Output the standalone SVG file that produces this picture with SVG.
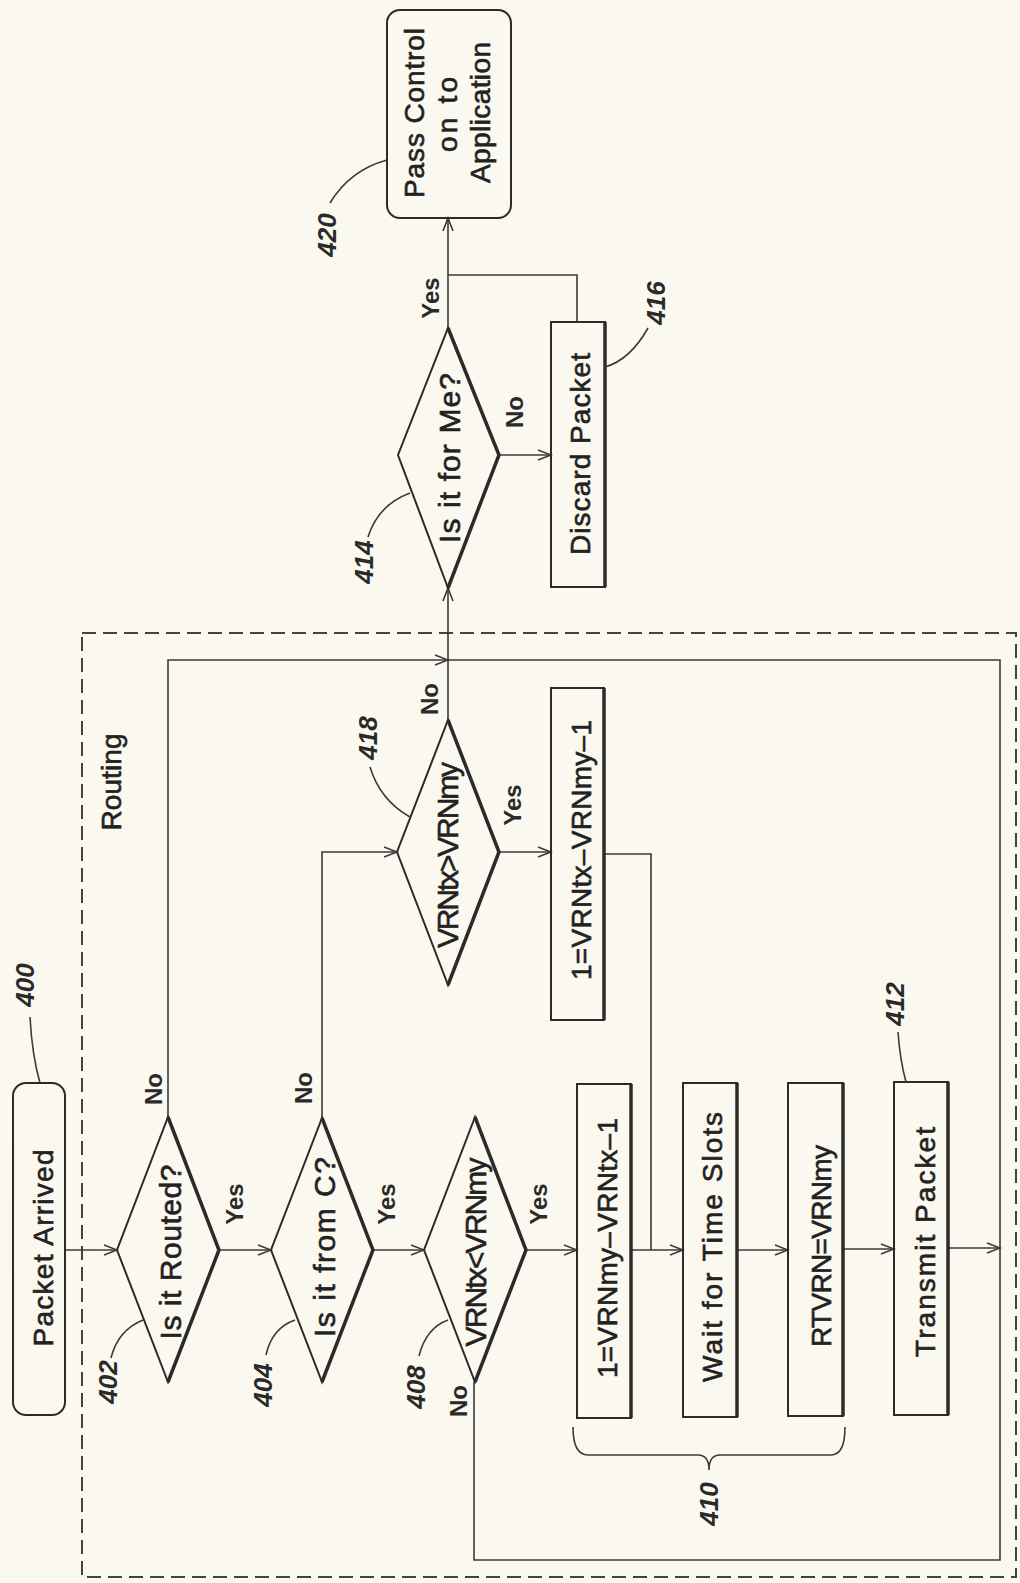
<svg xmlns="http://www.w3.org/2000/svg" width="1020" height="1583" viewBox="0 0 1020 1583">
<defs>
<marker id="arr" markerUnits="userSpaceOnUse" markerWidth="16" markerHeight="12" refX="14" refY="6" orient="auto">
<path d="M1,1 L14,6 L1,11" fill="none" stroke="#3a3a3a" stroke-width="1.6"/>
</marker>
<style>
.bg{fill:#fbf9ef}
.box{fill:none;stroke:#2b2b2b;stroke-width:2}
.shade{fill:none;stroke:#2b2b2b;stroke-width:3.5}
.ln{fill:none;stroke:#3a3a3a;stroke-width:1.6}
.dash{fill:none;stroke:#444;stroke-width:2;stroke-dasharray:14 7}
.t{font-family:"Liberation Sans",Arial,sans-serif;font-size:28px;fill:#222;stroke:#222;stroke-width:0.6;text-anchor:middle}
.d{font-family:"Liberation Sans",Arial,sans-serif;font-size:30px;fill:#222;stroke:#222;stroke-width:0.6;text-anchor:middle}
.yn{font-family:"Liberation Sans",Arial,sans-serif;font-size:24px;font-weight:bold;fill:#2a2a2a;text-anchor:middle}
.ref{font-family:"Liberation Sans",Arial,sans-serif;font-size:26px;font-weight:bold;font-style:italic;fill:#2a2a2a;text-anchor:middle}
</style>
</defs>
<rect class="bg" x="0" y="0" width="1020" height="1583"/>

<g id="routing">
<rect class="dash" x="82" y="633" width="934" height="944"/>
<text class="t" transform="translate(111,782) rotate(-90)" y="10" textLength="97">Routing</text>
</g>

<g id="connectors">
<path class="ln" d="M65,1250 L117,1250" marker-end="url(#arr)"/>
<path class="ln" d="M219,1250 L271,1250" marker-end="url(#arr)"/>
<path class="ln" d="M373,1250 L424,1250" marker-end="url(#arr)"/>
<path class="ln" d="M526,1250 L577,1250" marker-end="url(#arr)"/>
<path class="ln" d="M631,1250 L683,1250" marker-end="url(#arr)"/>
<path class="ln" d="M737,1250 L788,1250" marker-end="url(#arr)"/>
<path class="ln" d="M843,1249 L894,1249" marker-end="url(#arr)"/>
<path class="ln" d="M948,1248 L1000,1248" marker-end="url(#arr)"/>
<path class="ln" d="M168,1117 L168,660 L448,660" marker-end="url(#arr)"/>
<path class="ln" d="M322,1118 L322,852 L397,852" marker-end="url(#arr)"/>
<path class="ln" d="M499,852 L551,852" marker-end="url(#arr)"/>
<path class="ln" d="M604,854 L651,854 L651,1250"/>
<path class="ln" d="M448,720 L448,588" marker-end="url(#arr)"/>
<path class="ln" d="M474,1382 L474,1560 L1000,1560 L1000,660 L448,660"/>
<path class="ln" d="M448,328 L448,218" marker-end="url(#arr)"/>
<path class="ln" d="M499,455 L551,455" marker-end="url(#arr)"/>
<path class="ln" d="M577,322 L577,275 L448,275"/>
</g>

<g id="n400">
<rect class="box" x="13" y="1083" width="52" height="332" rx="13"/>
<text class="t" transform="translate(42.5,1248) rotate(-90)" y="10" textLength="197">Packet Arrived</text>
</g>

<g id="n402">
<polygon class="box" points="168,1117 219,1250 168,1382 117,1250"/>
<path class="shade" d="M168,1117 L219,1250 L168,1382"/>
<text class="d" transform="translate(170,1252) rotate(-90)" y="11" textLength="175">Is it Routed?</text>
<text class="yn" transform="translate(153,1089) rotate(-90)" y="8.5">No</text>
<text class="yn" transform="translate(234,1204) rotate(-90)" y="8.5">Yes</text>
</g>

<g id="n404">
<polygon class="box" points="322,1118 373,1250 322,1382 271,1250"/>
<path class="shade" d="M322,1118 L373,1250 L322,1382"/>
<text class="d" transform="translate(324,1247) rotate(-90)" y="11" textLength="180">Is it from C?</text>
<text class="yn" transform="translate(303,1088) rotate(-90)" y="8.5">No</text>
<text class="yn" transform="translate(386,1204) rotate(-90)" y="8.5">Yes</text>
</g>

<g id="n408">
<polygon class="box" points="475,1117 526,1250 475,1382 424,1250"/>
<path class="shade" d="M475,1117 L526,1250 L475,1382"/>
<text class="d" transform="translate(476,1252) rotate(-90)" y="10" textLength="189" font-size="27">VRNtx&lt;VRNmy</text>
<text class="yn" transform="translate(538,1204) rotate(-90)" y="8.5">Yes</text>
<text class="yn" transform="translate(458,1401) rotate(-90)" y="8.5">No</text>
</g>

<g id="n410a">
<rect class="box" x="577" y="1084" width="54" height="334"/>
<path class="shade" d="M631,1084 L631,1418"/>
<text class="t" transform="translate(607,1248) rotate(-90)" y="10" textLength="260">1=VRNmy–VRNtx–1</text>
</g>

<g id="n410b">
<rect class="box" x="683" y="1083" width="54" height="334"/>
<path class="shade" d="M737,1083 L737,1417"/>
<text class="t" transform="translate(712,1247) rotate(-90)" y="10" textLength="270">Wait for Time Slots</text>
</g>

<g id="n410c">
<rect class="box" x="788" y="1083" width="55" height="333"/>
<path class="shade" d="M843,1083 L843,1416"/>
<text class="t" transform="translate(821,1246) rotate(-90)" y="10" textLength="202">RTVRN=VRNmy</text>
</g>

<g id="n412">
<rect class="box" x="894" y="1082" width="54" height="333"/>
<path class="shade" d="M948,1082 L948,1415"/>
<text class="t" transform="translate(925,1242) rotate(-90)" y="10" textLength="230">Transmit Packet</text>
</g>

<g id="n418">
<polygon class="box" points="448,720 499,852 448,985 397,852"/>
<path class="shade" d="M448,720 L499,852 L448,985"/>
<text class="d" transform="translate(448,855) rotate(-90)" y="10" textLength="186" font-size="27">VRNtx&gt;VRNmy</text>
<text class="yn" transform="translate(429,699) rotate(-90)" y="8.5">No</text>
<text class="yn" transform="translate(512,805) rotate(-90)" y="8.5">Yes</text>
</g>

<g id="n418b">
<rect class="box" x="551" y="688" width="53" height="332"/>
<path class="shade" d="M604,688 L604,1020"/>
<text class="t" transform="translate(581,850) rotate(-90)" y="10" textLength="260">1=VRNtx–VRNmy–1</text>
</g>

<g id="n414">
<polygon class="box" points="448,328 499,455 448,588 398,455"/>
<path class="shade" d="M448,328 L499,455 L448,588"/>
<text class="d" transform="translate(449,458) rotate(-90)" y="11" textLength="170">Is it for Me?</text>
<text class="yn" transform="translate(430,298) rotate(-90)" y="8.5">Yes</text>
<text class="yn" transform="translate(514,412) rotate(-90)" y="8.5">No</text>
</g>

<g id="n416">
<rect class="box" x="551" y="322" width="54" height="265"/>
<path class="shade" d="M605,322 L605,587"/>
<text class="t" transform="translate(580,454) rotate(-90)" y="10" textLength="202">Discard Packet</text>
</g>

<g id="n420">
<rect class="box" x="387" y="10" width="124" height="208" rx="13"/>
<text class="t" transform="translate(448,113) rotate(-90)" y="-24" textLength="170">Pass Control</text>
<text class="t" transform="translate(448,114.5) rotate(-90)" y="9" textLength="75">on to</text>
<text class="t" transform="translate(448,112.5) rotate(-90)" y="42" textLength="141">Application</text>
</g>

<g id="refs">
<path class="ln" d="M30,1017 Q32,1055 40,1083"/>
<text class="ref" transform="translate(25,985) rotate(-90)" y="9">400</text>
<path class="ln" d="M111,1358 Q118,1330 143,1320"/>
<text class="ref" transform="translate(108,1382) rotate(-90)" y="9">402</text>
<path class="ln" d="M266,1355 Q272,1328 295,1320"/>
<text class="ref" transform="translate(263,1385) rotate(-90)" y="9">404</text>
<path class="ln" d="M419,1356 Q426,1328 448,1320"/>
<text class="ref" transform="translate(416,1387) rotate(-90)" y="9">408</text>
<path class="ln" d="M573,1427 Q573,1455 588,1455 L698,1455 Q709,1455 709,1470 Q709,1455 720,1455 L831,1455 Q845,1455 845,1427"/>
<text class="ref" transform="translate(709,1504) rotate(-90)" y="9">410</text>
<path class="ln" d="M898,1032 Q900,1060 906,1082"/>
<text class="ref" transform="translate(895,1004) rotate(-90)" y="9">412</text>
<path class="ln" d="M368,537 Q378,505 410,493"/>
<text class="ref" transform="translate(364,562) rotate(-90)" y="9">414</text>
<path class="ln" d="M648,328 Q630,360 605,367"/>
<text class="ref" transform="translate(656,303) rotate(-90)" y="9">416</text>
<path class="ln" d="M370,767 Q380,800 410,817"/>
<text class="ref" transform="translate(368,738) rotate(-90)" y="9">418</text>
<path class="ln" d="M330,203 Q350,170 387,160"/>
<text class="ref" transform="translate(327,235) rotate(-90)" y="9">420</text>
</g>
</svg>
